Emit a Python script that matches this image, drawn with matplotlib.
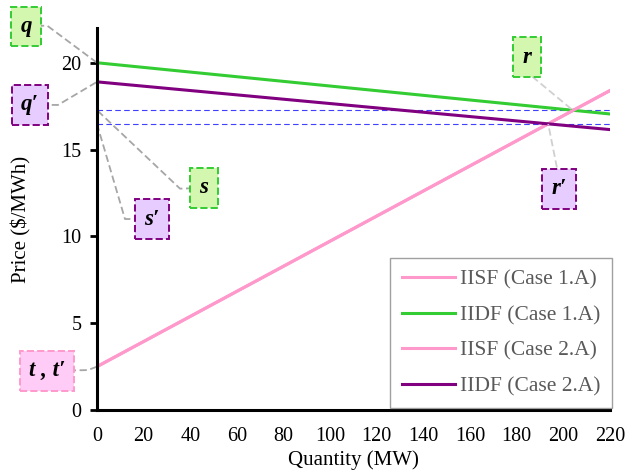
import numpy as np
import matplotlib
matplotlib.use("Agg")
import matplotlib.pyplot as plt

plt.rcParams['font.family'] = ['Liberation Serif', 'DejaVu Serif']
plt.rcParams['mathtext.fontset'] = 'stix'

# supply / demand curves (end points)
quantity = [0, 220]
iisf_case1 = [2.5, 18.4]
iidf_case1 = [20.0, 17.05]
iisf_case2 = [2.5, 18.4]
iidf_case2 = [18.9, 16.15]

# equilibrium points (quantity, price)
eq_case1 = (204.0, 17.27)
eq_case2 = (193.5, 16.47)

x_ticks = [0, 20, 40, 60, 80, 100, 120, 140, 160, 180, 200, 220]
y_ticks = [0, 5, 10, 15, 20]

PINK = '#ff99cc'
GREEN = '#33cc33'
PURPLE = '#800080'

fig = plt.figure(figsize=(6.27, 4.75), dpi=100)
ax = fig.add_axes([0.1547, 0.1368, 0.8182, 0.8042])

ax.plot(quantity, iisf_case1, color=PINK, lw=2.2, label='IISF (Case 1.A)')
ax.plot(quantity, iidf_case1, color=GREEN, lw=2.2, label='IIDF (Case 1.A)')
ax.plot(quantity, iisf_case2, color=PINK, lw=2.2, label='IISF (Case 2.A)')
ax.plot(quantity, iidf_case2, color=PURPLE, lw=2.2, label='IIDF (Case 2.A)')

# equilibrium price levels
for eq in (eq_case1, eq_case2):
    ax.plot(quantity, [eq[1], eq[1]], color='#4040ff', lw=0.8,
            dashes=(5, 3), zorder=1)

ax.set_xlim(0, 220)
ax.set_ylim(0, 22)
ax.set_xticks(x_ticks)
ax.set_yticks(y_ticks)
ax.tick_params(axis='x', length=0, pad=12, labelsize=14.5)
ax.tick_params(axis='y', length=5, width=2, pad=6, labelsize=14.5, direction='out')
for s in ('top', 'right'):
    ax.spines[s].set_visible(False)
for s in ('left', 'bottom'):
    ax.spines[s].set_linewidth(2.2)
ax.set_xlabel('Quantity (MW)', fontsize=15, labelpad=3)
ax.set_ylabel('Price ($/MWh)', fontsize=15, labelpad=22)

leg = ax.legend(loc='lower right', bbox_to_anchor=(1.004, 0.005),
                borderaxespad=0, fancybox=False, fontsize=15.5,
                handlelength=2.5, labelspacing=0.72, borderpad=0.55,
                handletextpad=0.2)
leg.get_frame().set_edgecolor('#888888')
leg.get_frame().set_linewidth(1.0)
for t in leg.get_texts():
    t.set_color('#595959')

# callout labels: text, box centre, knee, target, colours
green_box = ('#d4f7b0', GREEN)
purple_box = ('#e6ccff', PURPLE)
pink_box = ('#ffccf7', PINK)
callouts = [
    ('q', (-30.4, 22.09), (-21.4, 22.14), (quantity[0], iidf_case1[0]), green_box, '#a6a6a6'),
    ("q\u2032", (-28.7, 17.57), (-16.7, 17.57), (quantity[0], iidf_case2[0]), purple_box, '#a6a6a6'),
    ('s', (45.9, 12.79), (35.6, 12.75), (0, eq_case1[1]), green_box, '#a6a6a6'),
    ("s\u2032", (23.6, 11.0), (12.0, 11.0), (0, eq_case2[1]), purple_box, '#a6a6a6'),
    ('r', (184.4, 20.33), (184.8, 19.41), eq_case1, green_box, '#d0d0d0'),
    ("r\u2032", (198.1, 12.73), (197.7, 13.65), eq_case2, purple_box, '#d0d0d0'),
    ("t , t\u2032", (-21.4, 2.25), (-3.9, 2.3), (quantity[0], iisf_case1[0]), pink_box, '#a6a6a6'),
]
for label, centre, knee, target, (fc, ec), lc in callouts:
    ax.plot([centre[0], knee[0], target[0]], [centre[1], knee[1], target[1]],
            color=lc, lw=1.3, ls=(0, (4, 2)), clip_on=False, zorder=2)
    ax.text(centre[0], centre[1], label, ha='center', va='center',
            fontsize=16.5, fontweight='bold', fontstyle='italic', zorder=5,
            bbox=dict(boxstyle='square,pad=0.4', fc=fc, ec=ec, ls='--', lw=1.4),
            clip_on=False)

fig.savefig('out.png', dpi=100)
